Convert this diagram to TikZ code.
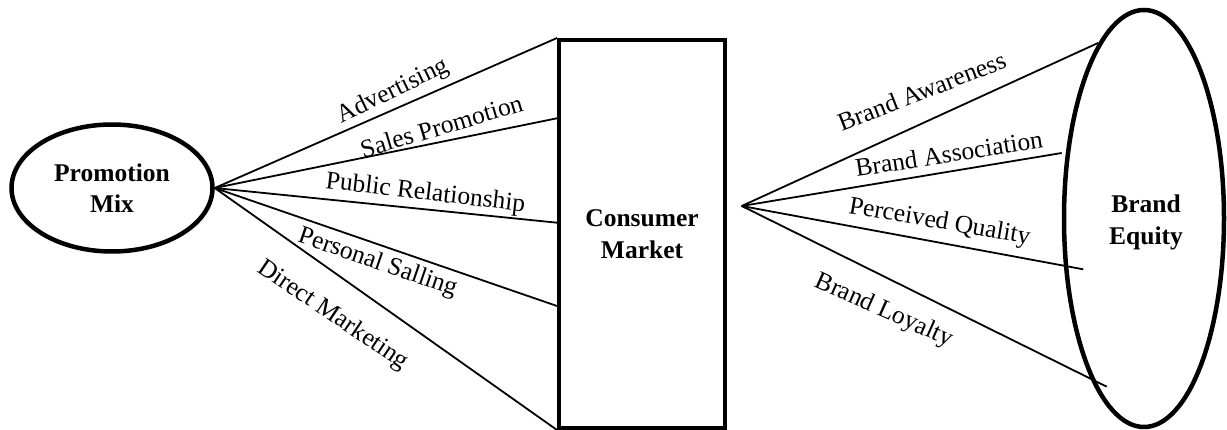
\documentclass[tikz,border=0pt]{standalone}
\usepackage{fontspec}
\setmainfont{Liberation Serif}
\usetikzlibrary{shapes.geometric}
\begin{document}
\begin{tikzpicture}[x=1pt,y=-1pt,
  ellbox/.style={draw, ellipse, line width=4.5pt, inner sep=0pt},
  rectbox/.style={draw, rectangle, line width=4pt, inner sep=0pt},
  title/.style={font=\fontsize{25.5}{31.5}\selectfont\bfseries, align=center},
  conn/.style={line width=1.8pt},
  lbl/.style={font=\fontsize{25.5}{30}\selectfont, inner sep=0pt, anchor=base west}]
\useasboundingbox (0,0) rectangle (1227,430);
% main shapes
\node[ellbox, title, minimum width=201pt, minimum height=127pt] (pm) at (112,188) {Promotion\\Mix};
\node[rectbox, title, minimum width=166pt, minimum height=388pt] (cm) at (642,234) {Consumer\\Market};
\node[ellbox, minimum width=160pt, minimum height=417pt] (be) at (1144,218.5) {};
\node[title] (bet) at (1146,222.5) {Brand\\Equity};
% left end points
\coordinate (e2) at (557,118.3);
\coordinate (e3) at (557,222.7);
\coordinate (e4) at (557,306);
% right fan
\coordinate (r0) at (741.7,206);
\coordinate (f1) at (1098,43);
\coordinate (f2) at (1061.7,153);
\coordinate (f3) at (1083.3,269.3);
\coordinate (f4) at (1106.7,386.7);
% connectors
\draw[conn] (pm.east) -- (cm.north west);
\draw[conn] (pm.east) -- (e2);
\draw[conn] (pm.east) -- (e3);
\draw[conn] (pm.east) -- (e4);
\draw[conn] (pm.east) -- (cm.south west);
\draw[conn] (r0) -- (f1);
\draw[conn] (r0) -- (f2);
\draw[conn] (r0) -- (f3);
\draw[conn] (r0) -- (f4);
% labels
\node[lbl, rotate=25.8] (l1) at (341.7,123.3) {Advertising};
\node[lbl, rotate=16.5] (l2) at (363.3,158.3) {Sales Promotion};
\node[lbl, rotate=-6.7] (l3) at (325,188.3) {Public Relationship};
\node[lbl, rotate=-19] (l4) at (296.7,241.7) {Personal Salling};
\node[lbl, rotate=-34] (l5) at (256,271) {Direct Marketing};
\node[lbl, rotate=21.3] (m1) at (841.7,131.7) {Brand Awareness};
\node[lbl, rotate=8.8] (m2) at (856.7,176.7) {Brand Association};
\node[lbl, rotate=-9.8] (m3) at (848,213) {Perceived Quality};
\node[lbl, rotate=-24] (m4) at (813.5,286.3) {Brand Loyalty};
\end{tikzpicture}
\end{document}
